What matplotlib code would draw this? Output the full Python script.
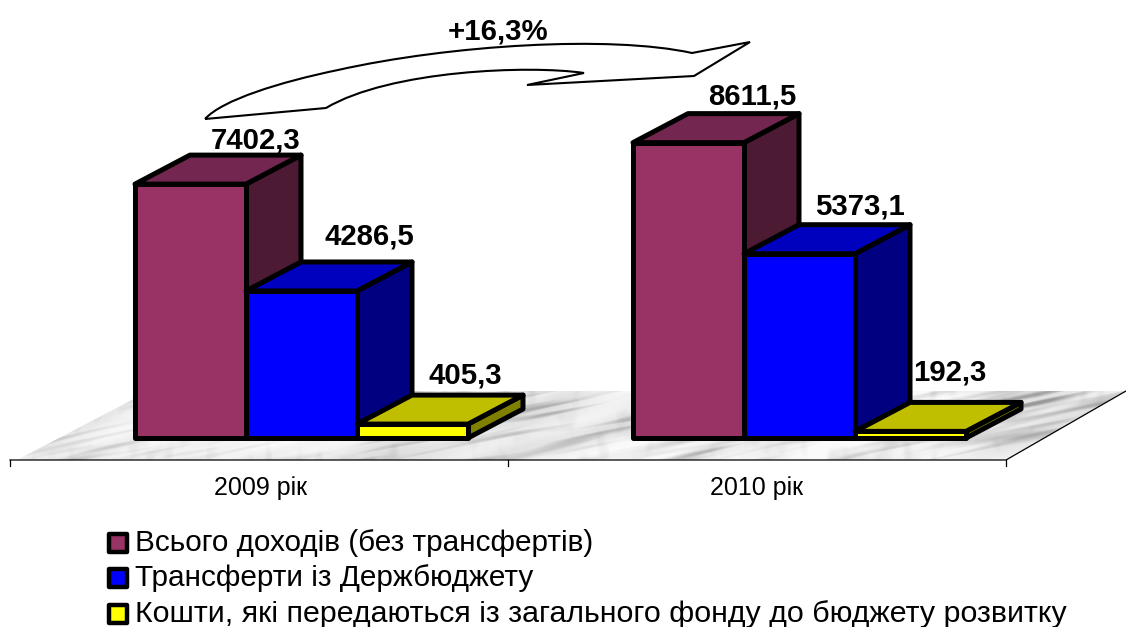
import numpy as np
import matplotlib
matplotlib.use("Agg")
import matplotlib.pyplot as plt
from matplotlib.patches import Polygon, PathPatch, Rectangle
from matplotlib.path import Path

years = ["2009 рік", "2010 рік"]
series_names = ["Всього доходів (без трансфертів)",
                "Трансферти із Держбюджету",
                "Кошти, які передаються із загального фонду до бюджету розвитку"]
values_total = [7402.3, 8611.5]
values_transfer = [4286.5, 5373.1]
values_dev = [405.3, 192.3]
value_labels = [["7402,3", "8611,5"], ["4286,5", "5373,1"], ["405,3", "192,3"]]
growth_label = "+16,3%"

W, H = 1126, 627
BASE, SCALE = 438, 0.0343
DX, DY = 55, 29
BAR_W = 111
GROUP_X = [135, 633]
LW = 3.6
FRONT = ["#993366", "#0000ff", "#ffff00"]
TOP = ["#732650", "#0000bf", "#bfbf00"]
SIDE = ["#4d1a33", "#000080", "#808000"]
LABEL_GAP = [[15, 17], [25, 18], [20, 30]]
LABEL_SHIFT = [[10, 9], [13, 5], [-2, -16]]
LEGEND_SIZES = [21.4, 21.4, 21.9]

plt.rcParams["font.family"] = ["Liberation Sans", "DejaVu Sans"]
fig = plt.figure(figsize=(W / 100, H / 100), dpi=100)
ax = fig.add_axes([0, 0, 1, 1])
ax.set_xlim(0, W)
ax.set_ylim(H, 0)
ax.axis("off")


# marble floor texture: hash noise smoothed along a streak direction
def streaks(yy, xx, s_along, s_across, slope, off):
    n = np.modf(np.sin(12.9898 * xx + 78.233 * yy + off) * 43758.5453)[0]
    n = n - n.mean()
    fy = np.fft.fftfreq(n.shape[0])[:, None]
    fx = np.fft.fftfreq(n.shape[1])[None, :]
    c, s = np.cos(slope), np.sin(slope)
    along = fx * c + fy * s
    across = -fx * s + fy * c
    g = np.exp(-2 * np.pi ** 2 * ((s_along * along) ** 2 + (s_across * across) ** 2))
    f = np.fft.ifft2(np.fft.fft2(n) * g).real
    return f / f.std()


yy, xx = np.mgrid[385:466, 0:W].astype(float)
long_veins = streaks(yy, xx, 26, 1.5, -0.2, 0.0)
blotches = streaks(yy, xx, 40, 6, -0.35, 1.7)
smudge = streaks(yy, xx, 4, 7, 0.1, 3.1)
tex = 0.90 + 0.04 * blotches - 0.055 * np.maximum(long_veins - 0.3, -0.5) * (1.2 - 0.4 * blotches) \
    - 0.03 * np.maximum(smudge - 0.5, 0)
tex = np.clip(tex, 0.6, 0.98)
im = ax.imshow(tex, cmap="gray", vmin=0, vmax=1, extent=(0, W, 466, 385),
               aspect="auto", interpolation="bilinear", zorder=1)
floor = Polygon([(17, 460), (1006, 460), (1126, 391), (149, 391)],
                closed=True, transform=ax.transData, fc="none", ec="none")
ax.add_patch(floor)
im.set_clip_path(floor)
ax.set_xlim(0, W)
ax.set_ylim(H, 0)

# axis lines
ax.plot([10, 1006, 1126], [460, 460, 391], color="black", lw=0.9, zorder=2)
for tx in (10, 508, 1006):
    ax.plot([tx, tx], [460, 466], color="black", lw=0.9, zorder=2)
for cx, name in zip((260, 757), years):
    ax.text(cx, 488, name, ha="center", va="center", fontsize=18, color="black")


def bar3d(x, value, k):
    h = value * SCALE
    y = BASE - h
    style = dict(ec="black", lw=LW, joinstyle="round", zorder=3 + k)
    ax.add_patch(Polygon([(x + BAR_W, BASE), (x + BAR_W + DX, BASE - DY),
                          (x + BAR_W + DX, y - DY), (x + BAR_W, y)], fc=SIDE[k], **style))
    ax.add_patch(Polygon([(x, y), (x + DX, y - DY), (x + BAR_W + DX, y - DY),
                          (x + BAR_W, y)], fc=TOP[k], **style))
    ax.add_patch(Polygon([(x, BASE), (x + BAR_W, BASE), (x + BAR_W, y), (x, y)],
                         fc=FRONT[k], **style))
    return y


for g, gx in enumerate(GROUP_X):
    for k, vals in enumerate((values_total, values_transfer, values_dev)):
        x = gx + k * BAR_W
        y = bar3d(x, vals[g], k)
        ax.text(x + BAR_W / 2 + DX + LABEL_SHIFT[k][g], y - DY - LABEL_GAP[k][g],
                value_labels[k][g], ha="center", va="center", fontsize=21.2,
                fontweight="bold", color="black", zorder=10)

# curved growth arrow
M, C, L = Path.MOVETO, Path.CURVE4, Path.LINETO
verts = [(205, 119),
         (222, 100), (280, 82), (338, 70),
         (450, 45), (610, 35), (692, 53),
         (750, 42), (694, 76), (527, 85), (584, 73),
         (530, 65), (390, 70), (326, 108),
         (205, 119)]
codes = [M, C, C, C, C, C, C, L, L, L, L, C, C, C, L]
ax.add_patch(PathPatch(Path(verts, codes), fc="white", ec="black", lw=1.5, zorder=9))
ax.text(498, 31, growth_label, ha="center", va="center", fontsize=21.2,
        fontweight="bold", color="black", zorder=10)

# legend
for cy, name, col, fs in zip((543, 578, 614), series_names, FRONT, LEGEND_SIZES):
    ax.add_patch(Rectangle((109, cy - 9), 18, 18, fc=col, ec="black", lw=3.2,
                           joinstyle="round", zorder=5))
    ax.text(135, cy, name, ha="left", va="center", fontsize=fs, color="black")

fig.savefig("out.png", dpi=100, facecolor="white")
